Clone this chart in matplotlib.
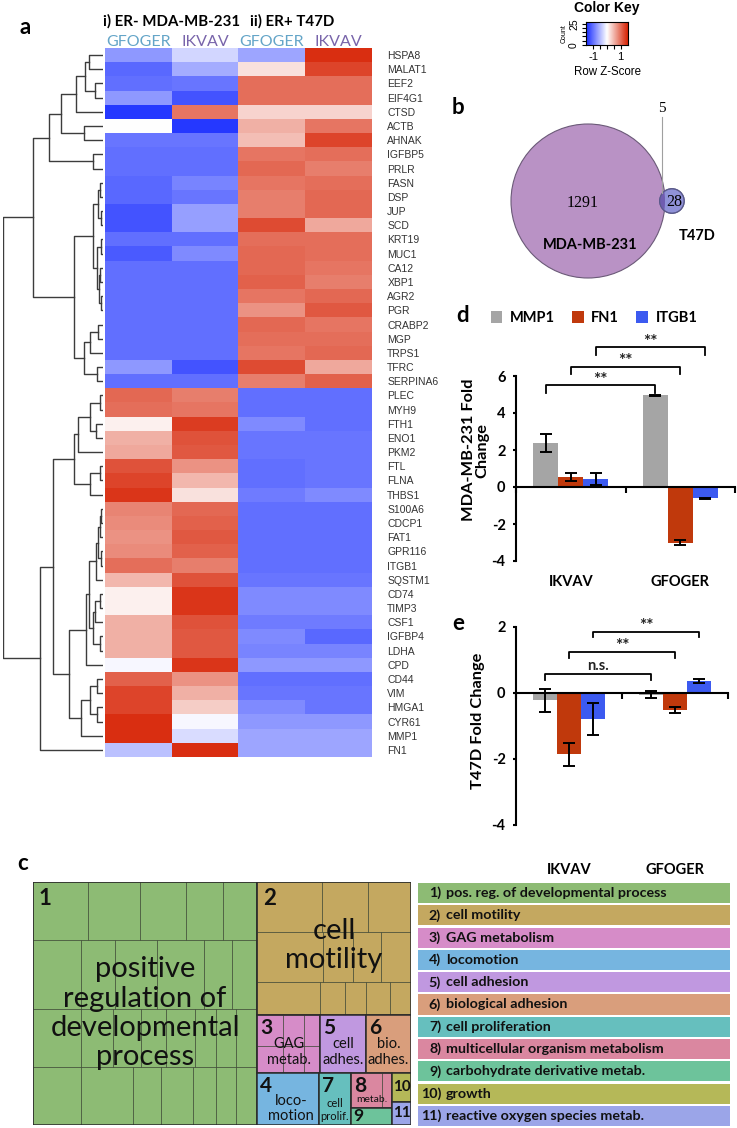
import numpy as np
import matplotlib
matplotlib.use("Agg")
import matplotlib.pyplot as plt
from matplotlib.colors import LinearSegmentedColormap
from matplotlib.patches import Circle, Rectangle

plt.rcParams['axes.unicode_minus'] = False

# ---------------- panel a : heatmap (row z-scores) ----------------
genes = ["HSPA8", "MALAT1", "EEF2", "EIF4G1", "CTSD", "ACTB", "AHNAK", "IGFBP5",
         "PRLR", "FASN", "DSP", "JUP", "SCD", "KRT19", "MUC1", "CA12", "XBP1",
         "AGR2", "PGR", "CRABP2", "MGP", "TRPS1", "TFRC", "SERPINA6",
         "PLEC", "MYH9", "FTH1", "ENO1", "PKM2", "FTL", "FLNA", "THBS1",
         "S100A6", "CDCP1", "FAT1", "GPR116", "ITGB1", "SQSTM1", "CD74", "TIMP3",
         "CSF1", "IGFBP4", "LDHA", "CPD", "CD44", "VIM", "HMGA1", "CYR61",
         "MMP1", "FN1"]
mda_gfoger = [-0.75, -1.1, -1.05, -0.75, -1.45, 0.0, -1.0, -1.05, -1.05, -1.1, -1.1, -1.25,
              -1.25, -1.05, -1.2, -1.05, -1.05, -1.05, -1.05, -1.05, -1.05, -1.05, -0.75, -1.05,
              1.05, 1.0, 0.1, 0.55, 0.6, 1.2, 1.3, 1.4, 0.85, 0.8, 0.75, 0.8, 1.0, 0.5,
              0.1, 0.1, 0.55, 0.55, 0.55, -0.05, 1.1, 1.3, 1.3, 1.45, 1.45, -0.45]
mda_ikvav = [-0.3, -0.6, -1.0, -1.25, 0.95, -1.45, -1.0, -1.05, -1.05, -0.9, -1.0, -0.7,
             -0.7, -1.05, -0.85, -1.05, -1.05, -1.05, -1.05, -1.05, -1.05, -1.05, -1.25, -1.05,
             0.9, 0.95, 1.35, 1.2, 1.15, 0.75, 0.5, 0.2, 1.05, 1.1, 1.15, 1.1, 0.9, 1.2,
             1.4, 1.4, 1.2, 1.15, 1.15, 1.4, 0.75, 0.55, 0.35, -0.05, -0.25, 1.45]
t47d_gfoger = [-0.65, 0.2, 1.0, 1.0, 0.3, 0.55, 0.45, 0.95, 1.05, 0.95, 0.9, 0.9,
               1.25, 1.0, 1.05, 1.05, 1.1, 0.95, 0.75, 1.05, 1.0, 0.95, 1.25, 0.9,
               -1.05, -1.05, -0.85, -1.0, -1.0, -1.05, -1.05, -0.95, -1.05, -1.05, -1.05, -1.05,
               -1.05, -1.0, -0.85, -0.85, -0.95, -0.85, -0.9, -0.75, -1.05, -1.0, -0.85, -0.75,
               -0.65, -0.65]
t47d_ikvav = [1.45, 1.3, 1.0, 1.0, 0.3, 0.95, 1.3, 1.0, 0.9, 1.0, 1.05, 1.05,
              0.6, 1.0, 1.0, 0.95, 0.9, 1.05, 1.15, 0.95, 1.0, 1.05, 0.6, 1.1,
              -1.05, -1.05, -1.05, -1.0, -1.0, -1.0, -1.0, -0.85, -1.05, -1.05, -1.05, -1.05,
              -1.05, -1.0, -0.85, -0.85, -0.95, -1.1, -0.9, -0.75, -1.05, -1.0, -1.0, -0.75,
              -0.65, -0.65]
heat_cols = ["GFOGER", "IKVAV", "GFOGER", "IKVAV"]

# row dendrogram: [left, right, merge height]
top_a = [[[[0, 1, 14], [2, 3, 8], 18], 4, 27], [5, 6, 19], 42]
top_b = [top_a, [7, 8, 10], 54]
fine = [[[9, 10, 3], [11, 12, 2], 5], [[13, 14, 2], [[15, 16, 3], [17, 18, 2], 4], 6], 10]
b2 = [[[19, 20, 5], 21, 13], [22, 23, 6], 19]
low_a = [[[[24, 25, 3], [26, 27, 7], 13], 28, 25], [[29, 30, 3], 31, 13], 29]
c1 = [[[[32, 33, 2], 34, 3], [35, 36, 2], 5], 37, 7]
c2 = [[[38, 39, 3], 40, 8], [41, 42, 3], 10]
low_b = [[[c1, c2, 14], 43, 17], [[[44, 45, 6], [46, 47, 6], 13], 48, 22], 34]
row_tree = [[top_b, [fine, b2, 29], 70], [[low_a, low_b, 50], 49, 63], 100]

# ---------------- panel b : venn ----------------
venn_names = ["MDA-MB-231", "T47D"]
venn_only = [1291, 28]
venn_shared = 5

# ---------------- panels d / e : qPCR ----------------
conditions = ["IKVAV", "GFOGER"]
bar_genes = ["MMP1", "FN1", "ITGB1"]
d_mmp1 = [2.38, 4.95]
d_fn1 = [0.55, -3.0]
d_itgb1 = [0.45, -0.62]
d_mmp1_err = [0.48, 0.05]
d_fn1_err = [0.22, 0.13]
d_itgb1_err = [0.32, 0.04]
e_mmp1 = [-0.22, -0.05]
e_fn1 = [-1.86, -0.52]
e_itgb1 = [-0.79, 0.355]
e_mmp1_err = [0.35, 0.11]
e_fn1_err = [0.35, 0.10]
e_itgb1_err = [0.48, 0.065]
d_sig = ["**", "**", "**"]
e_sig = ["n.s.", "**", "**"]
d_sig_y = [5.5, 6.5, 7.55]
e_sig_y = [0.58, 1.25, 1.86]

# ---------------- panel c : GO treemap ----------------
go_labels = ["pos. reg. of developmental process", "cell motility", "GAG metabolism",
             "locomotion", "cell adhesion", "biological adhesion", "cell proliferation",
             "multicellular organism metabolism", "carbohydrate derivative metab.",
             "growth", "reactive oxygen species metab."]
go_tile_text = ["positive\nregulation of\ndevelopmental\nprocess", "cell\nmotility",
                "GAG\nmetab.", "loco-\nmotion", "cell\nadhes.", "bio.\nadhes.",
                "cell\nprolif.", "metab.", "", "", ""]
go_size = [59.26, 22.30, 3.98, 3.51, 2.90, 2.84, 1.81, 1.56, 0.76, 0.60, 0.48]
go1_terms = [[32, 30, 27, 21, 20], [33, 24, 29, 32, 20, 17],
             [28, 19, 16, 15, 17, 12, 12, 12], [28, 30, 16, 19, 13, 12, 12]]
go2_terms = [[33, 23, 22], [33, 15, 14, 15], [21, 8, 7, 8, 7]]
go3_terms = [[8, 6.5, 5], [7, 5.7, 4.3]]
go8_terms = [[11, 3.5]]

go_colors = ["#8dbb74", "#c4a860", "#d68cc8", "#76b5e0", "#c098e0", "#d99e7c",
             "#66bfbe", "#da87a0", "#6dc39b", "#b5b858", "#9ba5e8"]

W, H = 737, 1128
fig = plt.figure(figsize=(W / 100, H / 100), dpi=100)


def box(x0, y0, x1, y1):
    return [x0 / W, 1 - y1 / H, (x1 - x0) / W, (y1 - y0) / H]


def fx(x):
    return x / W


def fy(y):
    return 1 - y / H


SANS = 'Lato'
canvas = fig.add_axes([0, 0, 1, 1])
canvas.set_xlim(0, W)
canvas.set_ylim(H, 0)
canvas.axis('off')

# ---- heatmap
Z = np.column_stack([mda_gfoger, mda_ikvav, t47d_gfoger, t47d_ikvav])
cmap = LinearSegmentedColormap.from_list('bluered', ['#1e32ff', '#ffffff', '#d8280a'])
ax_hm = fig.add_axes(box(105, 48, 372, 757))
ax_hm.imshow(Z, cmap=cmap, vmin=-1.5, vmax=1.5, aspect='auto', interpolation='nearest')
ax_hm.set_xticks([])
ax_hm.set_yticks(range(len(genes)))
ax_hm.set_yticklabels(genes, fontsize=7.5, family='Liberation Sans', color='#333333')
ax_hm.yaxis.tick_right()
ax_hm.tick_params(axis='y', length=0, pad=11)
for s in ax_hm.spines.values():
    s.set_visible(False)
for i, c in enumerate(heat_cols):
    ax_hm.text(i, -0.92, c, ha='center', va='center', fontsize=11.5, family=SANS,
               color='#64a5c8' if c == 'GFOGER' else '#7864aa')
fig.text(fx(103), fy(21), "i) ER- MDA-MB-231", fontsize=10.8, family=SANS,
         fontweight='bold', va='center')
fig.text(fx(250), fy(21), "ii) ER+ T47D", fontsize=10.8, family=SANS,
         fontweight='bold', va='center')

# ---- dendrogram
ax_dn = fig.add_axes(box(2.5, 48, 103, 757))


def draw_tree(ax, node):
    if isinstance(node, int):
        return node, 0.0
    left, right, h = node
    yl, hl = draw_tree(ax, left)
    yr, hr = draw_tree(ax, right)
    ax.plot([hl, h, h, hr], [yl, yl, yr, yr], color='#3c3c3c', lw=1.0)
    return (yl + yr) / 2, h


draw_tree(ax_dn, row_tree)
ax_dn.set_xlim(100.5, 0)
ax_dn.set_ylim(len(genes) - 0.5, -0.5)
ax_dn.axis('off')

# ---- colour key
ax_ck = fig.add_axes(box(586, 22, 628, 45))
grad = np.linspace(-1.55, 1.55, 256).reshape(1, -1)
ax_ck.imshow(grad, cmap=cmap, vmin=-1.5, vmax=1.5, aspect='auto',
             extent=[-1.55, 1.55, 0, 27])
ax_ck.set_xticks([-1, -0.5, 0, 0.5, 1])
ax_ck.set_xticklabels(['-1', '', '', '', '1'], fontsize=8, family='Liberation Sans')
ax_ck.set_yticks([0, 5, 10, 15, 20, 25])
ax_ck.set_yticklabels(['0', '', '', '', '', '25'], fontsize=7.5, family='Liberation Sans',
                      rotation=90, va='center')
ax_ck.tick_params(length=3, width=0.8, pad=2)
ax_ck.set_ylabel('Count', fontsize=5, family='Liberation Sans', labelpad=1)
ax_ck.set_xlabel('Row Z-Score', fontsize=8.3, family='Liberation Sans', labelpad=3)
for s in ax_ck.spines.values():
    s.set_linewidth(0.8)
fig.text(fx(607), fy(8), "Color Key", fontsize=10, family='Liberation Sans',
         fontweight='bold', ha='center', va='center')

# ---- venn
k = 77 / np.sqrt(venn_only[0] + venn_shared)
r1 = k * np.sqrt(venn_only[0] + venn_shared)
r2 = k * np.sqrt(venn_only[1] + venn_shared)
target = venn_shared * np.pi * k * k


def lens_area(d, ra, rb):
    a1 = np.arccos(np.clip((d * d + ra * ra - rb * rb) / (2 * d * ra), -1, 1))
    a2 = np.arccos(np.clip((d * d + rb * rb - ra * ra) / (2 * d * rb), -1, 1))
    tri = 0.5 * np.sqrt(max((-d + ra + rb) * (d + ra - rb) * (d - ra + rb) * (d + ra + rb), 0))
    return ra * ra * a1 + rb * rb * a2 - tri


lo, hi = r1 - r2, r1 + r2
for _ in range(60):
    mid = (lo + hi) / 2
    if lens_area(mid, r1, r2) > target:
        lo = mid
    else:
        hi = mid
cx1, cy = 588, 201
cx2 = cx1 + (lo + hi) / 2
big = Circle((cx1, cy), r1, fc='#b992c5', ec='#6b5a78', lw=0.8)
canvas.add_patch(big)
canvas.add_patch(Circle((cx2, cy), r2, fc='#9092d8', ec='#5a5a8a', lw=0.8))
ov = Circle((cx2, cy), r2, fc='#6f5cb0', ec='none')
canvas.add_patch(ov)
ov.set_clip_path(big)
canvas.add_patch(Circle((cx2, cy), r2, fc='none', ec='#5a5a8a', lw=0.8))
ov_x = (cx1 + r1 + cx2 - r2) / 2
canvas.plot([ov_x, ov_x], [117, cy - 8], color='#a0a0a0', lw=0.8)
canvas.text(ov_x, 109, str(venn_shared), fontsize=11, family='Liberation Serif',
            ha='center', va='center')
canvas.text(cx1 - 5, cy + 2, str(venn_only[0]), fontsize=11.5, family='Liberation Serif',
            ha='center', va='center')
canvas.text(cx2 + 2, cy + 1, str(venn_only[1]), fontsize=11.5, family='Liberation Serif',
            ha='center', va='center')
canvas.text(cx1 + 2, 245, venn_names[0], fontsize=10.5, family=SANS, fontweight='bold',
            ha='center', va='center')
canvas.text(697, 236, venn_names[1], fontsize=10.5, family=SANS, fontweight='bold',
            ha='center', va='center')

# ---- bar panels
bar_colors = ['#a5a5a5', '#c0390c', '#3c5af0']
bar_offsets = [-0.228, 0.0, 0.228]
bar_w = 0.228


def fold_panel(ax, means, errs, sig, sig_y, drop, ylim, spine_top, ticks, ylabel, lab_x, cat_y):
    x = np.arange(len(conditions))
    bars = []
    for j in range(3):
        b = ax.bar(x + bar_offsets[j], means[j], bar_w, color=bar_colors[j],
                   label=bar_genes[j], zorder=2)
        ax.errorbar(x + bar_offsets[j], means[j], yerr=errs[j], fmt='none', ecolor='black',
                    elinewidth=1.4, capsize=4, capthick=1.4, zorder=3)
        bars.append(b)
    for j in range(3):
        x0, x1 = bar_offsets[j], 1 + bar_offsets[j]
        y = sig_y[j]
        ax.plot([x0, x0, x1, x1], [y - drop, y, y, y - drop], color='black', lw=1.3,
                clip_on=False)
        if sig[j] == "**":
            ax.text((x0 + x1) / 2, y - drop * 0.35, sig[j], ha='center', va='bottom',
                    fontsize=12.5, family=SANS, fontweight='bold', color='#222222')
        else:
            ax.text((x0 + x1) / 2, y + drop * 0.2, sig[j], ha='center', va='bottom',
                    fontsize=10.5, family=SANS, fontweight='bold', color='#222222')
    ax.set_xlim(-0.5, 1.5)
    ax.set_ylim(*ylim)
    for s in ['top', 'right']:
        ax.spines[s].set_visible(False)
    ax.spines['left'].set_bounds(ylim[0], spine_top)
    ax.spines['bottom'].set_position(('data', 0))
    ax.spines['left'].set_linewidth(1.5)
    ax.spines['bottom'].set_linewidth(1.5)
    ax.set_xticks([-0.5, 0.5, 1.5])
    ax.set_xticklabels([])
    ax.tick_params(axis='x', direction='out', length=4, width=1.5)
    ax.set_yticks(ticks)
    ax.set_yticklabels([str(t) for t in ticks], fontsize=10.5, family=SANS, fontweight='bold')
    ax.tick_params(axis='y', direction='out', length=2.5, width=1.5, pad=5)
    ax.set_ylabel(ylabel, fontsize=11.8, family=SANS, fontweight='bold', linespacing=1.0)
    ax.yaxis.set_label_coords(lab_x, 0.5)
    ax.patch.set_visible(False)
    for i, c in enumerate(conditions):
        ax.text(i, cat_y, c, transform=ax.get_xaxis_transform(), ha='center', va='center',
                fontsize=10.5, family=SANS, fontweight='bold')
    return bars


ax_d = fig.add_axes(box(516, 339, 735, 561))
bars_d = fold_panel(ax_d, [d_mmp1, d_fn1, d_itgb1], [d_mmp1_err, d_fn1_err, d_itgb1_err],
                    d_sig, d_sig_y, 0.4, (-4, 8), 6, [-4, -2, 0, 2, 4, 6],
                    "MDA-MB-231 Fold\nChange", -0.12, -0.095)
ax_e = fig.add_axes(box(516, 617, 728, 825))
fold_panel(ax_e, [e_mmp1, e_fn1, e_itgb1], [e_mmp1_err, e_fn1_err, e_itgb1_err],
           e_sig, e_sig_y, 0.18, (-4, 2.3), 2, [-4, -2, 0, 2],
           "T47D Fold Change", -0.145, -0.216)
fig.legend(handles=bars_d, labels=bar_genes, loc='center', ncol=3,
           bbox_to_anchor=(fx(594), fy(318)), frameon=False, handlelength=0.8,
           handleheight=0.8, handletextpad=0.5, columnspacing=1.2,
           prop=dict(family=SANS, weight='bold', size=10.5))

# ---- treemap
TW, TH = 378, 243
ax_tm = fig.add_axes(box(33, 882, 33 + TW, 882 + TH))
ax_tm.set_xlim(0, TW)
ax_tm.set_ylim(TH, 0)
ax_tm.axis('off')
tm_layout = ('h', [0, ('v', [1, ('h', [2, 4, 5]), ('h', [3, 6, ('v', [7, 8]), ('v', [9, 10])])])])


def node_size(node):
    if isinstance(node, int):
        return go_size[node]
    return sum(node_size(c) for c in node[1])


def place(node, x, y, w, h, out):
    if isinstance(node, int):
        out[node] = (x, y, w, h)
        return
    orient, kids = node
    tot = node_size(node)
    pos = 0.0
    for c in kids:
        f = node_size(c) / tot
        if orient == 'h':
            place(c, x + pos * w, y, w * f, h, out)
        else:
            place(c, x, y + pos * h, w, h * f, out)
        pos += f


rects = {}
place(tm_layout, 0, 0, TW, TH, rects)
sub_terms = {0: go1_terms, 1: go2_terms, 2: go3_terms, 7: go8_terms}
for i in range(len(go_size)):
    x, y, w, h = rects[i]
    ax_tm.add_patch(Rectangle((x, y), w, h, fc=go_colors[i], ec='none'))
    if i in sub_terms:
        rows = sub_terms[i]
        tot = sum(sum(r) for r in rows)
        yy = y
        for r in rows:
            rh = h * sum(r) / tot
            xx = x
            for v in r:
                cw = w * v / sum(r)
                ax_tm.add_patch(Rectangle((xx, yy), cw, rh, fc='none', ec='#404a38',
                                          lw=0.6, alpha=0.6))
                xx += cw
            yy += rh
    ax_tm.add_patch(Rectangle((x, y), w, h, fc='none', ec='#2a2a2a', lw=1.1))

text_size = [21, 21, 10.5, 10.5, 10.5, 10.5, 8, 7.5]
text_pos = [0.54, 0.48, 0.64, 0.68, 0.64, 0.64, 0.71, 0.77]
text_dx = [0, 0, 0, 3, 0, 0, 0, 0]
for i in range(len(go_size)):
    x, y, w, h = rects[i]
    n = str(i + 1)
    if i < 8:
        big_t = i < 2
        ax_tm.text(x + (6 if big_t else 3), y + (6 if big_t else 3), n,
                   fontsize=16 if big_t else 15,
                   family=SANS, fontweight='bold', ha='left', va='top', color='#111111')
        ax_tm.text(x + w / 2 + text_dx[i], y + h * text_pos[i], go_tile_text[i],
                   fontsize=text_size[i], family=SANS, ha='center', va='center',
                   linespacing=1.15, color='#111111')
    elif i == 8:
        ax_tm.text(x + 2, y + h / 2, n, fontsize=12.5, family=SANS, fontweight='bold',
                   ha='left', va='center', color='#111111')
    else:
        ax_tm.text(x + w / 2, y + h / 2, n, fontsize=11, family=SANS, fontweight='bold',
                   ha='center', va='center', color='#111111')

# ---- treemap legend
ax_lg = fig.add_axes(box(418, 882, 730, 1127))
ax_lg.barh(range(len(go_labels)), [1] * len(go_labels), height=0.9, left=0, color=go_colors)
ax_lg.set_xlim(0, 1)
ax_lg.set_ylim(len(go_labels) - 0.5, -0.5)
ax_lg.axis('off')
for i, lab in enumerate(go_labels):
    ax_lg.text((441 - 418) / 312, i, f"{i + 1})", ha='right', va='center', fontsize=10.3,
               family=SANS, fontweight='bold', color='#111111')
    ax_lg.text((446 - 418) / 312, i, lab, ha='left', va='center', fontsize=10.3,
               family=SANS, fontweight='bold', color='#111111')

# ---- panel letters
for lt, px, py in [('a', 25, 27), ('b', 458, 108), ('c', 23, 864), ('d', 463, 316), ('e', 458, 624)]:
    fig.text(fx(px), fy(py), lt, fontsize=16, family=SANS, fontweight='bold',
             ha='center', va='center')

fig.savefig("out.png", dpi=100)
